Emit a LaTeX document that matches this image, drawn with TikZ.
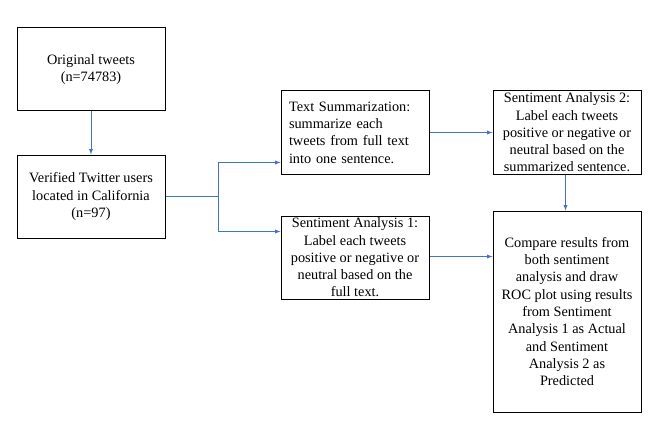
\documentclass[tikz,border=0pt]{standalone}
\usepackage{fontspec}
\setmainfont{Liberation Serif}
\usetikzlibrary{positioning, arrows}
\definecolor{flowblue}{HTML}{4472C4}

\begin{document}
\begin{tikzpicture}[> = latex, % arrow head style
                x = 1pt, y = -1pt, % one unit per pixel, downwards
                node distance = 43pt, % distance between nodes
                semithick % line style
            ]

            \useasboundingbox (0,0) rectangle (670,436);

            \tikzstyle{box}=[draw = black, rectangle, line width = 1pt,
            inner sep = 2pt, minimum width = 148pt, minimum height = 83pt,
            align = center, font = \rmfamily\fontsize{14.3}{17.3}\selectfont]
            \tikzstyle{flow}=[->, draw = flowblue, line width = 0.9pt]

            \node[box] (orig) at (91,69.5) {Original tweets\\(n=74783)};
            \node[box] (verified) [below=of orig] {Verified Twitter users\\
            located in California\\(n=97)};

            \node[box, align = left, text width = 132pt, inner xsep = 8pt]
            (textsum) at (355,132.5) {Text Summarization:\\summarize each\\
            tweets from full text\\into one sentence.};
            \node[box, inner ysep = 1pt] (sa2) [right=63pt of textsum]
            {Sentiment Analysis 2:\\Label each tweets\\positive or negative or\\
            neutral based on the\\summarized sentence.};
            \node[box, inner ysep = 1pt] (sa1) [below=41pt of textsum]
            {Sentiment Analysis 1:\\Label each tweets\\positive or negative or\\
            neutral based on the\\full text.};
            \node[box, minimum height = 201pt] (compare) [below=36pt of sa2]
            {Compare results from\\both sentiment\\analysis and draw\\
            ROC plot using results\\from Sentiment\\Analysis 1 as Actual\\
            and Sentiment\\Analysis 2 as\\Predicted};

            \path (orig) edge[flow] (verified);
            \draw[flowblue, line width = 0.9pt] (verified.east) -- ++(53,0)
            coordinate (split);
            \draw[flow] (split) |- ([yshift=-30pt]textsum.west);
            \draw[flow] (split) |- ([yshift=26pt]sa1.west);
            \path (textsum) edge[flow] (sa2);
            \path ([xshift=-1.5pt]sa2.south) edge[flow] ([xshift=-1.5pt]compare.north);
            \draw[flow] ([yshift=1pt]sa1.east) -- ([yshift=1pt]sa1.east -| compare.west);
\end{tikzpicture}
\end{document}
